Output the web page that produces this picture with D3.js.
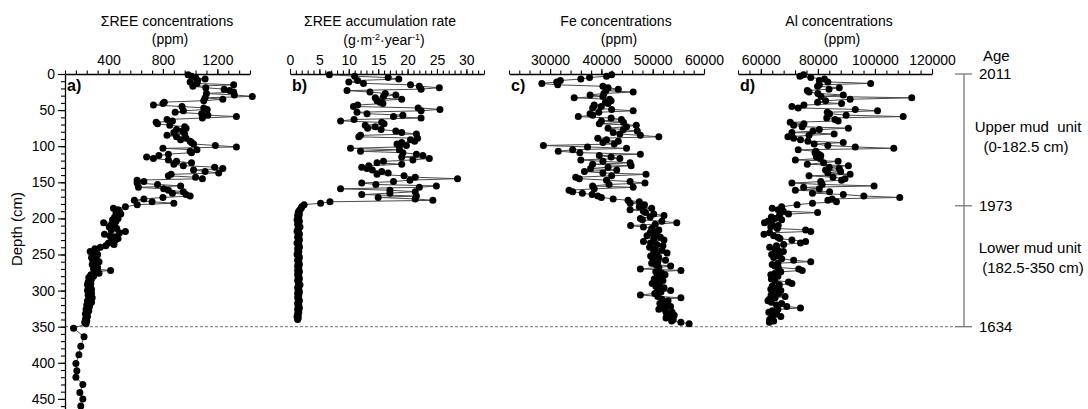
<!DOCTYPE html>
<html>
<head>
<meta charset="utf-8">
<script src="https://cdn.jsdelivr.net/npm/d3@7"></script>
<style>
body { margin: 0; background: #fff; }
svg text { font-family: "Liberation Sans", Arial, sans-serif; }
</style>
</head>
<body>
<script>
var w = 1088;
var h = 409;

// sample depth (cm), shared by the four profiles
var depth = [1,3,5,7,9,11,13,15,17,19,21,23,25,27,29,31,33,35,37,39,
  41,43,45,47,49,51,53,55,57,59,61,63,65,67,69,71,73,75,77,79,
  81,83,85,87,89,91,93,95,97,99,101,103,105,107,109,111,113,115,117,119,
  121,123,125,127,129,131,133,135,137,139,141,143,145,147,149,151,153,155,157,159,
  161,163,165,167,169,171,173,175,177,179,181,
  184,186,188,190,192,194,196,198,200,202,204,206,208,210,212,214,216,218,220,222,
  224,226,228,230,232,234,236,238,240,242,244,246,248,250,252,254,256,258,260,262,
  264,266,268,270,272,274,276,278,280,282,284,286,288,290,292,294,296,298,300,302,
  304,306,308,310,312,314,316,318,320,322,324,326,328,330,332,334,336,338,340,342,
  344,346];

// ΣREE concentrations (ppm)
var reeConc = [985,1010,1040,1110,1055,1000,1050,1320,1020,1115,
  1250,1290,1320,1120,1325,1457,1110,1240,1100,810,
  800,730,940,1100,1125,950,890,1085,1130,1340,
  1090,830,870,750,760,850,960,970,900,945,
  880,960,830,900,970,930,1000,1010,1025,1185,
  1340,800,1050,1000,1010,840,770,680,730,840,
  900,1010,880,950,1180,1240,1025,1110,1210,860,
  840,1040,1090,610,660,610,760,930,620,805,
  840,950,870,970,1000,800,660,590,720,880,
  611,
  524,436,470,480,455,490,465,445,470,430,
  455,364,425,445,405,460,420,524,480,370,
  410,445,470,450,420,400,440,380,340,300,
  310,265,290,320,300,275,310,285,330,300,
  280,310,320,290,415,300,330,270,290,255,
  275,265,250,270,245,265,255,275,245,260,
  275,250,265,280,255,245,275,255,240,260,
  250,235,255,245,230,240,245,235,230,240,
  225,235];

// deeper REE samples below the lower mud unit
var deepDepth = [352,364,377,389,401,411,420,430,441,450,460,470];
var deepReeConc = [143,220,196,182,160,167,160,211,189,211,196,185];

// ΣREE accumulation rate (g·m-2·year-1)
var reeRate = [6.7,11.0,16.7,18.5,11.5,10.0,12.5,20.5,22.0,25.4,
  22.3,9.7,13.6,16.2,18.0,15.9,14.5,19.0,14.8,15.3,
  15.8,11.5,10.8,21.8,25.5,22.3,11.4,13.1,19.2,17.6,
  22.3,10.9,8.6,15.6,16.0,12.8,14.5,13.2,15.5,18.0,
  19.0,21.5,12.0,11.7,21.7,20.5,21.2,19.0,18.2,19.8,
  18.6,10.3,18.6,12.0,19.2,21.5,22.6,19.0,23.7,20.9,
  15.9,14.8,19.0,13.4,12.2,13.1,14.0,15.6,16.7,14.8,
  19.4,21.3,28.5,20.4,17.6,12.2,14.6,24.9,22.0,8.6,
  17.0,21.3,17.0,12.2,21.5,15.0,21.3,24.3,6.8,5.2,
  2.4,
  2.0,1.9,1.7,1.5,1.4,1.6,1.3,1.5,1.4,1.2,
  1.6,1.4,1.3,1.5,1.7,1.4,1.3,1.2,1.5,1.6,
  1.4,1.3,1.5,1.6,1.4,1.2,1.5,1.4,1.6,1.3,
  1.4,1.5,1.3,1.2,1.5,1.6,1.4,1.3,1.5,1.4,
  1.6,1.3,1.4,1.5,1.3,1.6,1.4,1.3,1.5,1.4,
  1.6,1.3,1.4,1.5,1.7,1.4,1.3,1.5,1.4,1.6,
  1.3,1.5,1.4,1.3,1.5,1.6,1.4,1.3,1.5,1.4,
  1.6,1.3,1.4,1.5,1.3,1.4,1.2,1.4,1.3,null,
  null,null];

// Fe concentrations (ppm)
var feConc = [42000,41000,37700,36000,32000,31300,28400,31500,40300,41300,
  43300,40900,46200,40500,37800,40300,34700,41600,41900,40800,
  41300,38600,40000,38300,42000,46200,39500,37800,38300,35500,
  41900,43900,40000,44300,39600,46800,44900,41300,44300,47000,
  42300,43600,47600,51200,39300,41000,43300,40300,42500,28700,
  37300,44900,34400,31600,35800,47600,39600,41900,43600,36000,
  40300,45600,38300,45800,41300,37900,43000,36700,40300,48700,
  42000,35000,35700,41000,45600,48500,41500,38300,46200,38600,
  33700,34400,36300,38200,39300,40000,42300,45200,47400,45600,
  48400,
  47400,49800,45600,48200,48600,50200,52200,49500,47600,48000,
  51800,54700,50500,45700,48200,49800,51200,50300,49500,50800,
  48900,51500,50200,52200,48200,49600,50800,52000,49400,50500,
  51800,50200,52800,50800,49600,51200,50000,52500,51000,49800,
  50600,53500,51200,47600,55500,50600,51800,52400,50900,51500,
  50300,52000,50800,49900,51300,50600,52200,51000,53500,51600,
  50400,47600,51000,55500,51800,53000,52200,51400,52800,53500,
  52000,51200,52500,53800,52700,54200,53000,52600,54000,53700,
  55500,57100];

// Al concentrations (ppm)
var alConc = [75000,73700,77500,82300,80500,83500,98500,80500,79900,87500,
  83900,76300,76900,80000,88900,81100,112900,91300,82700,79900,
  88300,75100,70900,73100,93100,100900,83300,84100,89900,109900,
  83100,86000,87100,70300,75100,71500,74500,90700,80500,78300,
  70900,85700,76900,69500,71500,73900,76500,88900,78700,83500,
  93100,106600,73100,79300,79000,80300,81000,79500,80800,72100,
  87100,82000,76300,90700,84000,87500,82700,88000,83500,91300,
  76900,85300,89500,88300,81000,70900,81500,99700,75000,80500,
  72100,84100,78100,88900,96100,108700,85000,83500,86500,78100,
  72700,
  67300,64000,66100,67900,79900,69700,66500,63700,65000,67300,
  62500,61300,64000,66100,63500,65800,75700,77500,63100,61100,
  64500,66000,66700,70900,75700,73900,68000,65500,63100,64900,
  66000,67900,65000,63800,66500,64500,67300,71500,77500,66000,
  64000,64900,66100,73300,74500,67000,65000,63500,66000,64500,
  63700,64900,69700,70900,66500,64000,65500,63500,67000,64800,
  66200,63600,68500,65000,63000,62500,63700,67300,65500,69100,
  73900,66000,64000,62800,65500,64200,67000,63700,63100,64500,
  63000,null];

// axis tick labels
var depthTicks = [0,50,100,150,200,250,300,350,400,450];
var reeConcTicks = [400,800,1200];
var reeRateTicks = [0,5,10,15,20,25,30];
var feTicks = [30000,40000,50000,60000];
var alTicks = [60000,80000,100000,120000];
var ageDepth = [0,182.5,350];
var ageLabels = ["2011","1973","1634"];

var svg = d3.select("body").append("svg")
  .attr("width", w)
  .attr("height", h);

svg.append("rect").attr("width", w).attr("height", h).attr("fill", "#fff");

var y = d3.scaleLinear().domain([0, 500]).range([74, 435]);

function rows(values, extraDepth, extraValues) {
  var r = [];
  depth.forEach(function(d, i) {
    if (values[i] != null) r.push({d: d, v: values[i]});
  });
  if (extraDepth) {
    extraDepth.forEach(function(d, i) { r.push({d: d, v: extraValues[i]}); });
  }
  return r;
}

var panels = [
  {tag: "a)", t1: "ΣREE concentrations", t2: "(ppm)", cx: 167, data: rows(reeConc, deepDepth, deepReeConc),
   domain: [80, 1440], range: [65, 250], ticks: reeConcTicks, minor: 80},
  {tag: "b)", t1: "ΣREE accumulation rate", t2: null, cx: 380, data: rows(reeRate),
   domain: [0, 33], range: [290, 484], ticks: reeRateTicks, minor: 1},
  {tag: "c)", t1: "Fe concentrations", t2: "(ppm)", cx: 616, data: rows(feConc),
   domain: [22000, 60000], range: [509, 704], ticks: feTicks, minor: 2000},
  {tag: "d)", t1: "Al concentrations", t2: "(ppm)", cx: 839, data: rows(alConc),
   domain: [52000, 120000], range: [738, 932], ticks: alTicks, minor: 4000}
];

// dashed line at the base of the lower mud unit
svg.append("line")
  .attr("x1", 65).attr("x2", 956)
  .attr("y1", y(350)).attr("y2", y(350))
  .attr("stroke", "#8a8a8a")
  .attr("stroke-width", 1.3)
  .attr("stroke-dasharray", "3,2");

function styleAxis(g, size) {
  g.selectAll(".domain").attr("stroke", "#000").attr("stroke-width", 1.3);
  g.selectAll(".tick line").attr("stroke", "#000").attr("stroke-width", 1.1);
  g.selectAll(".tick text").attr("font-size", size).attr("fill", "#000")
    .attr("font-family", "'Liberation Sans', Arial, sans-serif");
}

panels.forEach(function(p) {
  var x = d3.scaleLinear().domain(p.domain).range(p.range);
  var minorTicks = d3.range(p.domain[0], p.domain[1] + p.minor / 2, p.minor);

  var gm = svg.append("g").attr("transform", "translate(0,74)")
    .call(d3.axisTop(x).tickValues(minorTicks).tickSize(3.5).tickSizeOuter(0).tickFormat(""));
  gm.select(".domain").remove();
  styleAxis(gm, 14);

  var ga = svg.append("g").attr("transform", "translate(0,74)")
    .call(d3.axisTop(x).tickValues(p.ticks).tickSize(5).tickPadding(4).tickSizeOuter(0).tickFormat(d3.format("d")));
  styleAxis(ga, 14);

  // titles
  svg.append("text").attr("x", p.cx).attr("y", 26)
    .attr("text-anchor", "middle").attr("font-size", 14).text(p.t1);
  if (p.t2) {
    svg.append("text").attr("x", p.cx + 3).attr("y", 44)
      .attr("text-anchor", "middle").attr("font-size", 14).text(p.t2);
  } else {
    var t = svg.append("text").attr("x", p.cx + 4).attr("y", 45)
      .attr("text-anchor", "middle").attr("font-size", 14);
    t.append("tspan").text("(g·m");
    t.append("tspan").attr("dy", -5).attr("font-size", 9).text("-2");
    t.append("tspan").attr("dy", 5).text("·year");
    t.append("tspan").attr("dy", -5).attr("font-size", 9).text("-1");
    t.append("tspan").attr("dy", 5).text(")");
  }

  // panel letter
  svg.append("text").attr("x", p.range[0] + 2).attr("y", 91)
    .attr("font-size", 16).attr("font-weight", "bold").text(p.tag);

  var line = d3.line()
    .x(function(d) { return x(d.v); })
    .y(function(d) { return y(d.d); });

  svg.append("path")
    .datum(p.data)
    .attr("d", line)
    .attr("fill", "none")
    .attr("stroke", "#4a4a4a")
    .attr("stroke-width", 1);

  svg.selectAll(null)
    .data(p.data)
    .enter()
    .append("circle")
    .attr("cx", function(d) { return x(d.v); })
    .attr("cy", function(d) { return y(d.d); })
    .attr("r", 3.5)
    .attr("fill", "#000");
});

// depth axis
var minorDepth = d3.range(0, 501, 10);
var gym = svg.append("g").attr("transform", "translate(65,0)")
  .call(d3.axisLeft(y).tickValues(minorDepth).tickSize(4).tickSizeOuter(0).tickFormat(""));
gym.select(".domain").remove();
styleAxis(gym, 14);
var gy = svg.append("g").attr("transform", "translate(65,0)")
  .call(d3.axisLeft(y).tickValues(depthTicks).tickSize(7).tickPadding(3).tickSizeOuter(0));
styleAxis(gy, 14);

svg.append("text")
  .attr("transform", "translate(22," + 229 + ") rotate(-90)")
  .attr("text-anchor", "middle")
  .attr("font-size", 15)
  .text("Depth (cm)");

// age scale on the right
var ageX = 964;
svg.append("line")
  .attr("x1", ageX).attr("x2", ageX)
  .attr("y1", y(0)).attr("y2", y(350))
  .attr("stroke", "#777").attr("stroke-width", 1.3);

svg.selectAll(".ageTick")
  .data(ageDepth)
  .enter()
  .append("line")
  .attr("x1", ageX - 9).attr("x2", ageX + 8)
  .attr("y1", function(d) { return y(d); })
  .attr("y2", function(d) { return y(d); })
  .attr("stroke", "#777").attr("stroke-width", 1.3);

svg.selectAll(".ageLabel")
  .data(ageDepth)
  .enter()
  .append("text")
  .attr("x", 979)
  .attr("y", function(d) { return y(d) + 5; })
  .attr("font-size", 15)
  .text(function(d, i) { return ageLabels[i]; });

svg.append("text").attr("x", 983).attr("y", 61).attr("font-size", 15).text("Age");

var unitText = [
  {t: "Upper mud  unit", x: 1028, y: 132},
  {t: "(0-182.5 cm)", x: 1026, y: 152},
  {t: "Lower mud unit", x: 1030, y: 253},
  {t: "(182.5-350 cm)", x: 1033, y: 273}
];
svg.selectAll(".unit")
  .data(unitText)
  .enter()
  .append("text")
  .attr("x", function(d) { return d.x; })
  .attr("y", function(d) { return d.y; })
  .attr("text-anchor", "middle")
  .attr("font-size", 15)
  .attr("xml:space", "preserve")
  .style("white-space", "pre")
  .text(function(d) { return d.t; });
</script>
</body>
</html>
